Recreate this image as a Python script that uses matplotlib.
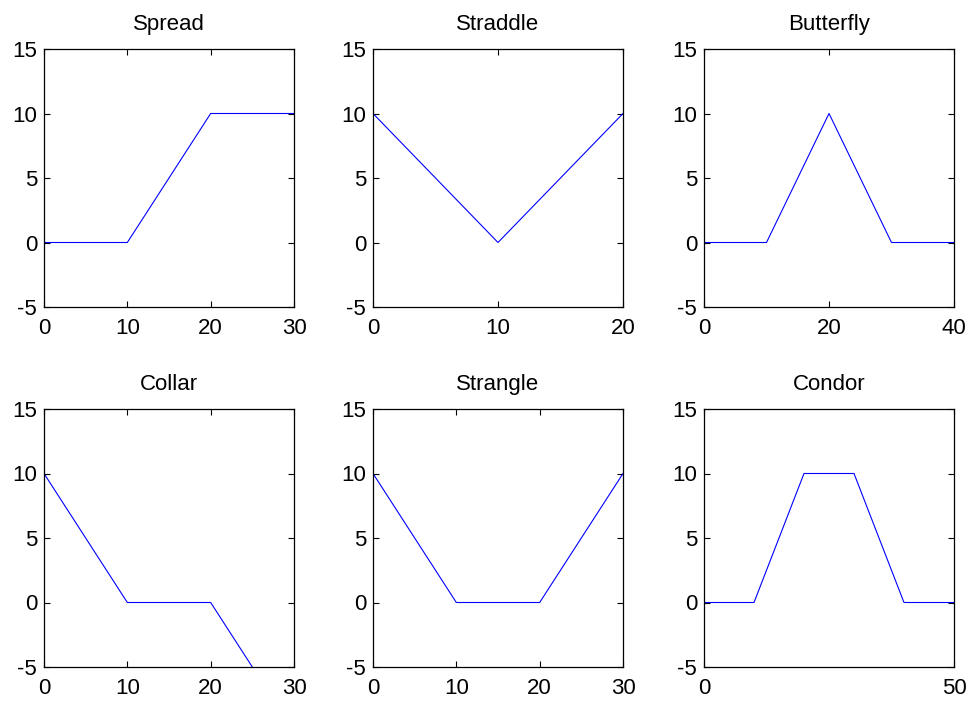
import matplotlib
matplotlib.use("Agg")
import matplotlib.pyplot as plt

plt.rcParams['font.family'] = ['Liberation Sans', 'DejaVu Sans']
plt.rcParams['axes.unicode_minus'] = False

titles = ['Spread', 'Straddle', 'Butterfly', 'Collar', 'Strangle', 'Condor']

spread_x = [0, 10, 20, 30]
spread_y = [0, 0, 10, 10]
straddle_x = [0, 10, 20]
straddle_y = [10, 0, 10]
butterfly_x = [0, 10, 20, 30, 40]
butterfly_y = [0, 0, 10, 0, 0]
collar_x = [0, 10, 20, 30]
collar_y = [10, 0, 0, -10]
strangle_x = [0, 10, 20, 30]
strangle_y = [10, 0, 0, 10]
condor_x = [0, 10, 20, 30, 40, 50]
condor_y = [0, 0, 10, 10, 0, 0]

xs = [spread_x, straddle_x, butterfly_x, collar_x, strangle_x, condor_x]
ys = [spread_y, straddle_y, butterfly_y, collar_y, strangle_y, condor_y]
xticks = [[0, 10, 20, 30], [0, 10, 20], [0, 20, 40],
          [0, 10, 20, 30], [0, 10, 20, 30], [0, 50]]
yticks = [-5, 0, 5, 10, 15]

fig = plt.figure(figsize=(9.74, 7.06), dpi=100)

lefts = [44 / 974, 373 / 974, 704 / 974]
bottoms = [1 - 307 / 706, 1 - 667 / 706]
w = 250 / 974
h = 258 / 706

for i in range(6):
    ax = fig.add_axes([lefts[i % 3], bottoms[i // 3], w, h])
    ax.plot(xs[i], ys[i], color='#0000ff', linewidth=0.8)
    ax.set_xlim(xticks[i][0], xticks[i][-1])
    ax.set_ylim(-5, 15)
    ax.set_xticks(xticks[i])
    ax.set_yticks(yticks)
    ax.set_title(titles[i], fontsize=16, pad=14)
    ax.tick_params(direction='in', length=4, width=0.8, labelsize=16,
                   top=True, right=True, pad=5)
    ax.tick_params(axis='x', pad=8)
    for s in ax.spines.values():
        s.set_linewidth(0.9)

fig.savefig('out.png', dpi=100)
